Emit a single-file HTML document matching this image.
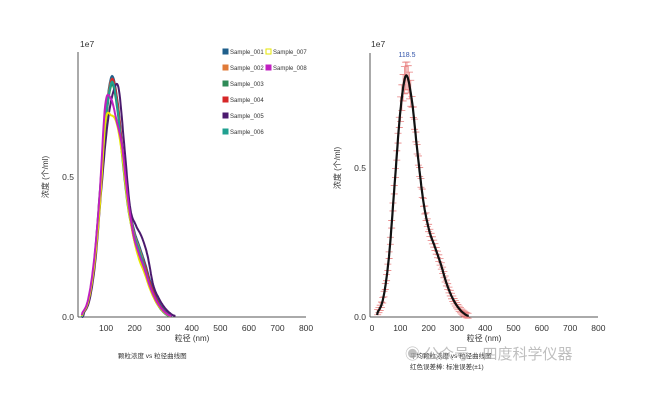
<!DOCTYPE html>
<html><head><meta charset="utf-8"><style>
html,body{margin:0;padding:0;background:#fff;}
svg{display:block;font-family:"Liberation Sans","Noto Sans CJK SC",sans-serif;}
</style></head><body>
<svg id="s" width="650" height="414" viewBox="0 0 650 414" xmlns="http://www.w3.org/2000/svg">
<rect width="650" height="414" fill="#fff"/>
<g stroke="#555" stroke-width="1" fill="none">
<line x1="78" y1="52" x2="78" y2="317"/>
<line x1="78" y1="317" x2="306" y2="317"/>
<line x1="370" y1="53" x2="370" y2="317"/>
<line x1="370" y1="317" x2="598" y2="317"/>
</g>
<g font-size="8.5" fill="#333">
<text x="80" y="47">1e7</text>
<text x="74" y="320" text-anchor="end">0.0</text>
<text x="74" y="180" text-anchor="end">0.5</text>
<text x="371" y="47">1e7</text>
<text x="366" y="320" text-anchor="end">0.0</text>
<text x="366" y="171" text-anchor="end">0.5</text>
</g>
<g id="xt" font-size="8.5" fill="#333" text-anchor="middle"></g>
<g font-size="8" fill="#333">
<text transform="translate(48,177) rotate(-90)" text-anchor="middle">浓度 (个/ml)</text>
<text transform="translate(340,168) rotate(-90)" text-anchor="middle">浓度 (个/ml)</text>
<text x="192" y="341" text-anchor="middle">粒径 (nm)</text>
<text x="484" y="341" text-anchor="middle">粒径 (nm)</text>
</g>
<g font-size="6.5" fill="#333">
<text x="118" y="358">颗粒浓度 vs 粒径曲线图</text>
<text x="410" y="358">平均颗粒浓度 vs 粒径曲线图</text>
<text x="410" y="369">红色误差棒: 标准误差(±1)</text>
</g>
<text x="405" y="359" font-size="15" fill="#aaa" fill-opacity="0.75">◉ 公众号 · 四度科学仪器</text>
<text x="407" y="57" font-size="7" fill="#3355aa" text-anchor="middle">118.5</text>
<g id="leg" font-size="6"></g>
<g id="curves" fill="none" stroke-width="2"></g>
<g id="err" stroke="#e88080" stroke-width="0.8" fill="none"></g>
<path id="mean" fill="none" stroke="#111" stroke-width="2.2"/>
</svg>
<script>
var NS="http://www.w3.org/2000/svg";
function el(t,a,p){var e=document.createElementNS(NS,t);for(var k in a)e.setAttribute(k,a[k]);p.appendChild(e);return e;}
var xt=document.getElementById('xt');
for(var i=1;i<=8;i++){var t=el('text',{x:77.5+i*28.57,y:331},xt);t.textContent=i*100;}
for(var i=0;i<=8;i++){var t=el('text',{x:372+i*28.3,y:331},xt);t.textContent=i*100;}
var base=[[15,0],[20,0.02],[40,0.08],[60,0.25],[80,0.55],[100,0.85],[120,1],[140,0.9],[160,0.68],[180,0.48],[200,0.36],[220,0.29],[240,0.22],[260,0.14],[280,0.08],[300,0.04],[320,0.015],[335,0.005]];
function interp(pts,x){if(x<=pts[0][0])return pts[0][1];for(var i=0;i<pts.length-1;i++){var a=pts[i],b=pts[i+1];if(x<=b[0]){var p0=pts[Math.max(0,i-1)],p3=pts[Math.min(pts.length-1,i+2)];var t=(x-a[0])/(b[0]-a[0]);var m1=(b[1]-p0[1])/2,m2=(p3[1]-a[1])/2;var t2=t*t,t3=t2*t;return (2*t3-3*t2+1)*a[1]+(t3-2*t2+t)*m1+(-2*t3+3*t2)*b[1]+(t3-t2)*m2;}}return pts[pts.length-1][1];}
function shape(peak,shift,end,mods){var pts=base.map(function(p){var v=p[1];if(mods&&mods[p[0]]!=null)v=mods[p[0]];return [p[0]+(p[0]>=120?(p[0]-120)*(end-335)/215:0)+shift,v];});return function(x){return peak*interp(pts,x);};}
var curves=[
["#1f5f8b",0.86,0,330,null],
["#e07b39",0.85,0,325,null],
["#2e8b57",0.83,0,320,null],
["#d62728",0.85,1,325,{200:0.33,220:0.27}],
["#4b1a6e",0.82,3,338,{100:0.82,110:0.95,120:0.97,140:1,160:0.75,200:0.4,220:0.35,240:0.27}],
["#20a090",0.84,0,322,null],
["#e6e600",0.72,-2,328,{100:0.97,120:1,140:0.96,160:0.8,180:0.56,200:0.4}],
["#c020c0",0.78,-3,330,{100:0.97,120:1,140:0.9,160:0.78,180:0.55,200:0.38}]
];
var cg=document.getElementById('curves');
curves.forEach(function(c){var f=shape(c[1],c[2],c[3],c[4]);var d="";for(var x=15;x<=c[3]+c[2]+2;x+=2){var X=77.5+x*0.2857,Y=317-f(x)*280;d+=(d?"L":"M")+X.toFixed(1)+","+Y.toFixed(1);}el('path',{d:d,stroke:c[0]},cg);});
var leg=document.getElementById('leg');
var L=[["Sample_001","#1f5f8b",223,52],["Sample_002","#e07b39",223,68],["Sample_003","#2e8b57",223,84],["Sample_004","#d62728",223,100],["Sample_005","#4b1a6e",223,116],["Sample_006","#20a090",223,132],["Sample_007","#e6e600",266,52],["Sample_008","#c020c0",266,68]];
L.forEach(function(l){el('rect',{x:l[2],y:l[3]-3,width:5,height:5,fill:l[1]==="#e6e600"?"#fff":l[1],stroke:l[1],"stroke-width":1},leg);var t=el('text',{x:l[2]+7,y:l[3]+2,fill:"#333"},leg);t.textContent=l[0];});
var fm=shape(0.81,0,340,null);
var d="",eg=document.getElementById('err');
for(var x=18;x<=342;x+=2){var X=372+x*0.283,Y=317-fm(x)*298;d+=(d?"L":"M")+X.toFixed(1)+","+Y.toFixed(1);}
document.getElementById('mean').setAttribute('d',d);
for(var x=20;x<=340;x+=4.5){var v=fm(x);var X=372+x*0.283,Y=317-v*298;var e=2.5+v*(x>100&&x<140?14:4);el('path',{d:"M"+X+","+(Y-e)+"V"+(Y+e)+"M"+(X-3.5)+","+(Y-e)+"h7M"+(X-3.5)+","+(Y+e)+"h7"},eg);}
</script>
</body></html>
